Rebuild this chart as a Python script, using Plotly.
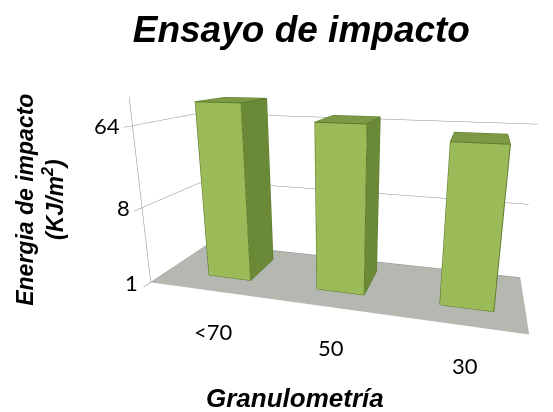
import math
import plotly.graph_objects as go

# Impact energy per granulometry class
categories = ["<70", "50", "30"]
energy = [109, 73, 53]          # KJ/m2
tick_values = [1, 8, 64]

FRONT = "#9BBB59"
SIDE = "#6B8A37"
TOP = "#7C9A45"
EDGE = "#5E7A2E"
Z_MAX = 2.33
X_RANGE = [-0.6, 2.43]
BAR_HALF = 0.2
DEPTH = (0.28, 0.78)


def lg8(v):
    return math.log(v, 8)


def box(x0, x1, y0, y1, z0, z1):
    xs = [x0, x1, x1, x0, x0, x1, x1, x0]
    ys = [y0, y0, y1, y1, y0, y0, y1, y1]
    zs = [z0, z0, z0, z0, z1, z1, z1, z1]
    tri = [
        (0, 1, 5), (0, 5, 4),   # front
        (3, 2, 6), (3, 6, 7),   # back
        (0, 3, 7), (0, 7, 4),   # left
        (1, 2, 6), (1, 6, 5),   # right
        (0, 1, 2), (0, 2, 3),   # bottom
        (4, 5, 6), (4, 6, 7),   # top
    ]
    colors = [FRONT, FRONT, SIDE, SIDE, SIDE, SIDE, SIDE, SIDE, SIDE, SIDE, TOP, TOP]
    i, j, k = zip(*tri)
    return xs, ys, zs, list(i), list(j), list(k), colors


fig = go.Figure()
y0, y1 = DEPTH
for n, (cat, v) in enumerate(zip(categories, energy)):
    x0, x1 = n - BAR_HALF, n + BAR_HALF
    zt = lg8(v)
    xs, ys, zs, i, j, k, fc = box(x0, x1, y0, y1, 0, zt)
    fig.add_trace(go.Mesh3d(
        x=xs, y=ys, z=zs, i=i, j=j, k=k, facecolor=fc, flatshading=True,
        lighting=dict(ambient=1, diffuse=0, specular=0, roughness=1, fresnel=0),
        hoverinfo="skip", showscale=False, name=cat,
    ))
    # visible bar edges
    ex = [x0, x1, x1, x0, x0, None, x0, x0, x1, x1, None, x1, x1, x1]
    ey = [y0, y0, y0, y0, y0, None, y0, y1, y1, y0, None, y1, y1, y0]
    ez = [0, 0, zt, zt, 0, None, zt, zt, zt, zt, None, zt, 0, 0]
    fig.add_trace(go.Scatter3d(x=ex, y=ey, z=ez, mode="lines",
                               line=dict(color=EDGE, width=2),
                               hoverinfo="skip", showlegend=False))

tick_font = dict(family="Lato", size=22, color="#000")
scene_ann = []
for t in tick_values:
    scene_ann.append(dict(x=X_RANGE[0], y=0, z=lg8(t), text=str(t), showarrow=False,
                          xanchor="right", xshift=-10, font=tick_font))
for n, cat in enumerate(categories):
    scene_ann.append(dict(x=n, y=0, z=0, text=cat, showarrow=False,
                          yshift=-40, font=tick_font))

# eye direction: azimuth to the right of the front, raised elevation
theta, phi, dist = math.radians(16), math.radians(15), 2.6
eye = dict(x=dist * math.sin(theta) * math.cos(phi),
           y=-dist * math.cos(theta) * math.cos(phi),
           z=dist * math.sin(phi))

title_font = dict(family="Liberation Sans, Arial", color="#000")

fig.update_layout(
    width=553, height=412,
    margin=dict(l=0, r=0, t=0, b=0),
    paper_bgcolor="white",
    showlegend=False,
    title=dict(text="<b><i>Ensayo de impacto</i></b>", x=0.545, xanchor="center",
               y=0.93, yanchor="middle", font=dict(size=37, **title_font)),
    scene=dict(
        domain=dict(x=[0.22, 1.0], y=[0.0, 1.0]),
        xaxis=dict(range=X_RANGE, showticklabels=False,
                   showgrid=False, showbackground=False, showline=False,
                   title=dict(text=""), zeroline=False, showspikes=False),
        yaxis=dict(range=[0, 1], showticklabels=False, showgrid=False,
                   showbackground=False, showline=False, title=dict(text=""),
                   zeroline=False, showspikes=False),
        zaxis=dict(range=[0, Z_MAX], tickvals=[lg8(t) for t in tick_values],
                   showticklabels=False, ticks="outside", ticklen=8,
                   tickcolor="#888",
                   showgrid=True, gridcolor="#8c8c8c", gridwidth=1,
                   showbackground=True, backgroundcolor="#B5B8B1",
                   showline=True, linecolor="#888",
                   title=dict(text=""), zeroline=False, showspikes=False),
        bgcolor="white",
        camera=dict(eye=eye, center=dict(x=0, y=0, z=-0.07)),
        aspectmode="manual", aspectratio=dict(x=1.94, y=0.62, z=0.99),
        annotations=scene_ann,
    ),
    annotations=[
        dict(text="<b><i>Energia de impacto<br>(KJ/m<sup>2</sup>)</i></b>",
             x=0.018, y=0.515, xref="paper", yref="paper", textangle=-90,
             showarrow=False, font=dict(size=23, **title_font)),
        dict(text="<b><i>Granulometría</i></b>", x=0.533, y=0.034,
             xref="paper", yref="paper", yanchor="middle", showarrow=False,
             font=dict(size=26, **title_font)),
    ],
)

fig.write_html("out.html")
